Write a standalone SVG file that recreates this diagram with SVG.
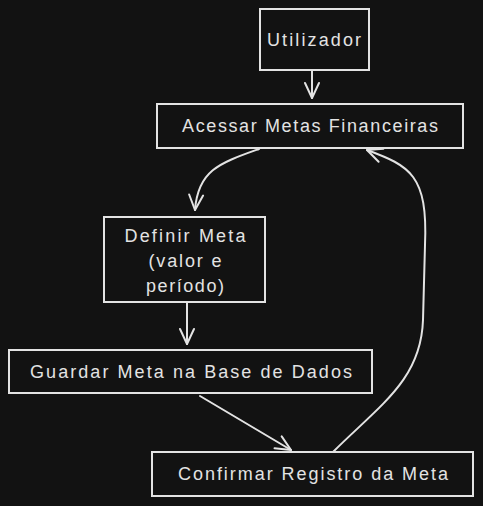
<svg xmlns="http://www.w3.org/2000/svg" width="483" height="506" viewBox="0 0 483 506">
<defs>
<style>
.box{fill:#121212;stroke:#e3e3e3;stroke-width:2}
.lbl{font-family:"Liberation Sans","Noto Sans",sans-serif;font-size:18px;fill:#e3e3e3;text-anchor:middle}
.edge{fill:none;stroke:#e3e3e3;stroke-width:2;stroke-linecap:round}
</style>
<marker id="ah" viewBox="0 0 22 22" refX="20" refY="11" markerWidth="22" markerHeight="22" markerUnits="userSpaceOnUse" orient="auto">
<path d="M5,4 L20,11 L5,18" fill="none" stroke="#e3e3e3" stroke-width="2" stroke-linecap="round" stroke-linejoin="round"/>
</marker>
</defs>
<rect width="483" height="506" fill="#121212"/>
<g id="connectors">
<path class="edge" d="M312,71 L312,98" marker-end="url(#ah)"/>
<path class="edge" d="M259,149 C220,163 198,170 195,210" marker-end="url(#ah)"/>
<path class="edge" d="M187,303 L187,344" marker-end="url(#ah)"/>
<path class="edge" d="M200,396 L291,450" marker-end="url(#ah)"/>
<path class="edge" d="M333,452 C380,405 421,380 423,320 L425,245 C428,175 410,166 367,150" marker-end="url(#ah)"/>
</g>
<g id="utilizador">
<rect class="box" x="260" y="9" width="109" height="61"/>
<text class="lbl" x="314" y="46" textLength="94" lengthAdjust="spacing">Utilizador</text>
</g>
<g id="acessar">
<rect class="box" x="157" y="104" width="306" height="44"/>
<text class="lbl" x="310" y="132" textLength="256" lengthAdjust="spacing">Acessar Metas Financeiras</text>
</g>
<g id="definir">
<rect class="box" x="104" y="217" width="161" height="85"/>
<text class="lbl" x="185" y="242" textLength="121" lengthAdjust="spacing">Definir Meta</text>
<text class="lbl" x="185" y="267" textLength="73" lengthAdjust="spacing">(valor e</text>
<text class="lbl" x="185" y="292" textLength="78" lengthAdjust="spacing">período)</text>
</g>
<g id="guardar">
<rect class="box" x="9" y="350" width="363" height="43"/>
<text class="lbl" x="191" y="378" textLength="322" lengthAdjust="spacing">Guardar Meta na Base de Dados</text>
</g>
<g id="confirmar">
<rect class="box" x="152" y="452" width="321" height="44"/>
<text class="lbl" x="313" y="480" textLength="270" lengthAdjust="spacing">Confirmar Registro da Meta</text>
</g>
</svg>
